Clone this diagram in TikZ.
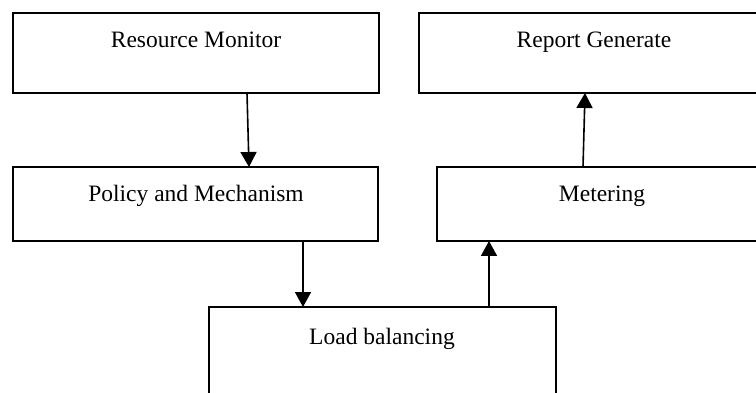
\documentclass[tikz,border=0pt]{standalone}
\usepackage{fontspec}
\setmainfont{Liberation Serif}
\usetikzlibrary{arrows.meta}
\begin{document}
\begin{tikzpicture}[x=1pt,y=-1pt,
  box/.style={draw=black, line width=1.6pt, rectangle, inner sep=0pt, outer sep=0pt, fill=white},
  lbl/.style={font=\fontsize{23.5pt}{28pt}\selectfont, anchor=base, inner sep=0pt},
  arr/.style={line width=1.6pt, -{Triangle[width=16pt,length=15pt]}}]
\useasboundingbox (0,0) rectangle (756,393);
\clip (0,0) rectangle (756,393);
% boxes
\node[box, minimum width=366pt, minimum height=80pt] (rm) at (196,53) {};
\node[box, minimum width=350pt, minimum height=80pt] (rg) at (594,53) {};
\node[box, minimum width=365pt, minimum height=74pt] (pm) at (195.5,204) {};
\node[box, minimum width=330pt, minimum height=74pt] (mt) at (602,204) {};
\node[box, minimum width=347pt, minimum height=100pt] (lb) at (382.5,357) {};
% texts
\node[lbl] (rmt) at (196,48) {Resource Monitor};
\node[lbl] (rgt) at (594,48) {Report Generate};
\node[lbl] (pmt) at (196,202) {Policy and Mechanism};
\node[lbl] (mtt) at (602,202) {Metering};
\node[lbl] (lbt) at (382,344) {Load balancing};
% connector positions
\coordinate (a1) at (247,0);
\coordinate (a2) at (249,0);
\coordinate (b1) at (303,0);
\coordinate (c1) at (489,0);
\coordinate (d1) at (583,0);
\coordinate (d2) at (585,0);
% connectors
\draw[arr] (rm.south -| a1) -- (pm.north -| a2);
\draw[arr] (pm.south -| b1) -- (lb.north -| b1);
\draw[arr] (lb.north -| c1) -- (mt.south -| c1);
\draw[arr] (mt.north -| d1) -- (rg.south -| d2);
\end{tikzpicture}
\end{document}
